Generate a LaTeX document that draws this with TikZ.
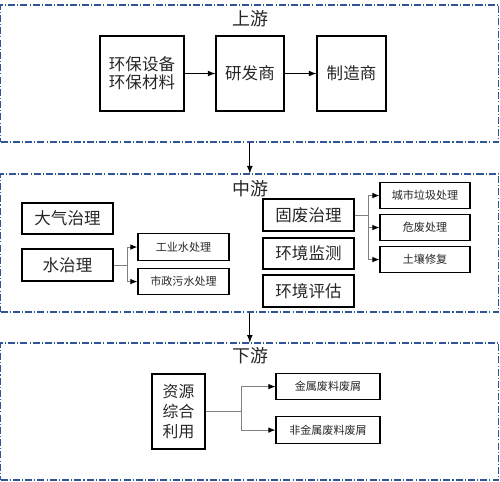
\documentclass[tikz,border=0pt]{standalone}
\usepackage{fontspec}
\setmainfont{Noto Sans CJK SC}
\usepackage{tikz}
\usetikzlibrary{arrows.meta}
\begin{document}
\begin{tikzpicture}[scale=0.02]
    \tikzstyle{every node}+=[inner sep=0pt, text=black!85]
    \tikzstyle{frame}=[draw={rgb,255:red,47;green,85;blue,151}, line width=0.6pt, dash pattern=on 4pt off 1.2pt on 0.6pt off 1.2pt, minimum width=9.97cm]
    \tikzstyle{box}=[draw=black, line width=0.8pt, align=center, font=\fontsize{9.4pt}{10.4pt}\selectfont]
    \tikzstyle{small}=[draw=black, line width=0.8pt, font=\fontsize{6.3pt}{7pt}\selectfont, minimum height=0.53cm]
    \tikzstyle{title}=[font=\fontsize{10.2pt}{12pt}\selectfont]
    \tikzstyle{branch}=[draw=gray, line width=0.5pt, -{Latex[black,length=4pt,width=3.2pt]}]
    \useasboundingbox (0,0) rectangle (500,-481);
    \node [frame, minimum height=2.74cm] (up) at (249.75,-73.5) {};
    \node [frame, minimum height=2.76cm] (mid) at (249.75,-243) {};
    \node [frame, minimum height=2.74cm] (down) at (249.75,-411.5) {};
    \node [title] (tup) at (250,-19) {上游};
    \node [title] (tmid) at (250,-189) {中游};
    \node [title] (tdown) at (250,-356) {下游};
    \node [box, minimum width=1.68cm, minimum height=1.5cm] (equip) at (142,-73.5) {环保设备\\环保材料};
    \node [box, minimum width=1.36cm, minimum height=1.5cm] (rnd) at (250,-73.5) {研发商};
    \node [box, minimum width=1.38cm, minimum height=1.5cm] (maker) at (351.5,-73.5) {制造商};
    \draw [-latex, line width=0.5pt] (equip) -- (rnd);
    \draw [-latex, line width=0.5pt] (rnd) -- (maker);
    \draw [-latex, line width=0.5pt] (up.south) -- (mid.north);
    \node [box, minimum width=1.82cm, minimum height=0.62cm] (air) at (67.5,-218.5) {大气治理};
    \node [box, minimum width=1.82cm, minimum height=0.64cm] (water) at (67.5,-265) {水治理};
    \node [small, minimum width=1.82cm] (indw) at (183.5,-247) {工业水处理};
    \node [small, minimum width=1.82cm] (munw) at (183.5,-281.5) {市政污水处理};
    \draw [branch] (water.east) -- ++(14,0) |- (indw.west);
    \draw [branch] (water.east) -- ++(14,0) |- (munw.west);
    \node [box, minimum width=1.82cm, minimum height=0.64cm] (solid) at (308.5,-215) {固废治理};
    \node [box, minimum width=1.82cm, minimum height=0.62cm] (monitor) at (308.5,-253.5) {环境监测};
    \node [box, minimum width=1.82cm, minimum height=0.64cm] (assess) at (308.5,-291) {环境评估};
    \node [small, minimum width=1.8cm] (urban) at (425,-195.5) {城市垃圾处理};
    \node [small, minimum width=1.8cm] (hazard) at (425,-227.5) {危废处理};
    \node [small, minimum width=1.8cm] (soil) at (425,-259.5) {土壤修复};
    \draw [branch] (solid.east) -- ++(14,0) |- (urban.west);
    \draw [branch] (solid.east) -- ++(14,0) |- (hazard.west);
    \draw [branch] (solid.east) -- ++(14,0) |- (soil.west);
    \draw [-latex, line width=0.5pt] (mid.south) -- (down.north);
    \node [box, minimum width=1.06cm, minimum height=1.5cm, font=\fontsize{9pt}{11.3pt}\selectfont] (reuse) at (178.5,-411.5) {资源\\综合\\利用};
    \node [small, minimum width=2.08cm] (metal) at (328,-386.5) {金属废料废屑};
    \node [small, minimum width=2.08cm] (nonmetal) at (328,-430) {非金属废料废屑};
    \draw [branch] (reuse.east) -- ++(36,0) |- (metal.west);
    \draw [branch] (reuse.east) -- ++(36,0) |- (nonmetal.west);
\end{tikzpicture}
\end{document}
